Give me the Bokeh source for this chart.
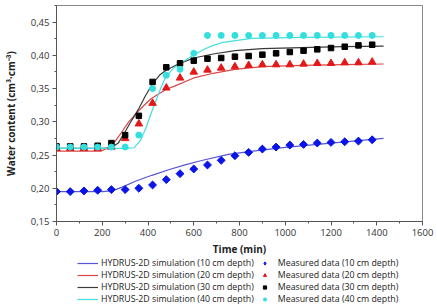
from bokeh.plotting import figure
from bokeh.layouts import column
from bokeh.models import (FixedTicker, CustomJSTickFormatter, Legend, LegendItem, Range1d)
from bokeh.embed import file_html
from bokeh.resources import INLINE

# Measurement times (min)
t_meas = [0, 60, 120, 180, 240, 300, 360, 420, 480, 540, 600, 660, 720,
          780, 840, 900, 960, 1020, 1080, 1140, 1200, 1260, 1320, 1380]

meas_10 = [0.195, 0.195, 0.196, 0.197, 0.198, 0.198, 0.200, 0.205, 0.213, 0.222,
           0.229, 0.235, 0.242, 0.249, 0.254, 0.259, 0.262, 0.265, 0.266, 0.268,
           0.269, 0.270, 0.271, 0.273]
meas_20 = [0.260, 0.260, 0.260, 0.260, 0.262, 0.275, 0.297, 0.328, 0.351, 0.366,
           0.375, 0.378, 0.381, 0.383, 0.385, 0.386, 0.386, 0.386, 0.387, 0.388,
           0.388, 0.389, 0.389, 0.390]
meas_30 = [0.263, 0.263, 0.263, 0.264, 0.268, 0.280, 0.309, 0.360, 0.382, 0.388,
           0.392, 0.395, 0.396, 0.398, 0.399, 0.401, 0.403, 0.405, 0.407, 0.409,
           0.411, 0.413, 0.415, 0.416]
meas_40 = [0.262, 0.262, 0.262, 0.262, 0.262, 0.262, 0.280, 0.350, 0.370, 0.379,
           0.403, 0.430, 0.430, 0.430, 0.430, 0.430, 0.430, 0.430, 0.430, 0.430,
           0.430, 0.430, 0.430, 0.430]

# HYDRUS-2D simulated curves
t_sim_10 = [0, 200, 243, 287, 345, 417, 490, 562, 635, 751, 850, 1000, 1200, 1430]
sim_10 = [0.195, 0.195, 0.196, 0.2017, 0.2106, 0.2195, 0.2278, 0.2353, 0.2418,
          0.251, 0.2555, 0.2615, 0.268, 0.275]

t_sim_20 = [0, 100, 195, 220, 250, 280, 316, 360, 410, 446, 480, 519, 600, 685,
            780, 900, 1070, 1250, 1430]
sim_20 = [0.256, 0.256, 0.256, 0.260, 0.268, 0.282, 0.300, 0.317, 0.334, 0.342,
          0.349, 0.354, 0.366, 0.373, 0.379, 0.383, 0.385, 0.386, 0.387]

t_sim_30 = [0, 200, 240, 270, 300, 330, 360, 390, 420, 450, 480, 540, 600, 685,
            780, 900, 1070, 1250, 1430]
sim_30 = [0.260, 0.260, 0.261, 0.268, 0.285, 0.303, 0.320, 0.340, 0.357, 0.370,
          0.378, 0.388, 0.396, 0.402, 0.407, 0.410, 0.4115, 0.413, 0.414]

t_sim_40 = [0, 300, 340, 367, 390, 417, 454, 475, 512, 533, 606, 650, 685, 722,
            852, 1070, 1430]
sim_40 = [0.260, 0.260, 0.261, 0.272, 0.290, 0.316, 0.349, 0.366, 0.381, 0.386,
          0.402, 0.410, 0.415, 0.419, 0.4255, 0.427, 0.428]

x_ticks = [0, 200, 400, 600, 800, 1000, 1200, 1400, 1600]
y_ticks = [0.15, 0.20, 0.25, 0.30, 0.35, 0.40, 0.45]

sim_labels = ["HYDRUS-2D simulation (10 cm depth)", "HYDRUS-2D simulation (20 cm depth)",
              "HYDRUS-2D simulation (30 cm depth)", "HYDRUS-2D simulation (40 cm depth)"]
meas_labels = ["Measured data (10 cm depth)", "Measured data (20 cm depth)",
               "Measured data (30 cm depth)", "Measured data (40 cm depth)"]

FONT = "Open Sans"
LINE_COLORS = ["#5555d5", "#d84848", "#3a3a3a", "#44dede"]
# (marker, size, colour, rotation) — the 10 cm diamond is a square turned 45°
MARK_STYLES = [("square", 5.6, "#0a14e6", 0.785398), ("triangle", 7.5, "#e41818", 0.0),
               ("square", 5.5, "#000000", 0.0), ("circle", 6, "#33dede", 0.0)]
# legend swatches do not follow marker rotation, so the key uses Bokeh's diamond
LEGEND_MARK_STYLES = [("diamond", 9, "#0a14e6", 0.0)] + MARK_STYLES[1:]

sim_t = [t_sim_10, t_sim_20, t_sim_30, t_sim_40]
sim_v = [sim_10, sim_20, sim_30, sim_40]
meas_v = [meas_10, meas_20, meas_30, meas_40]


def draw_series(fig, mark_styles):
    lines = [fig.line(t, v, line_color=c, line_width=1.2)
             for t, v, c in zip(sim_t, sim_v, LINE_COLORS)]
    marks = [fig.scatter(t_meas, v, marker=m, size=s, color=c, angle=a)
             for v, (m, s, c, a) in zip(meas_v, mark_styles)]
    return lines, marks


# ---- main chart ----
p = figure(width=437, height=258, output_backend="svg", toolbar_location=None,
           x_range=Range1d(0, 1600), y_range=Range1d(0.15, 0.475))
p.min_border_left = 54
p.min_border_right = 15
p.min_border_top = 5
p.min_border_bottom = 0
p.background_fill_color = "white"
p.border_fill_color = "white"
p.outline_line_color = "#888888"
p.outline_line_width = 1
p.grid.visible = False

draw_series(p, MARK_STYLES)

xa = p.xaxis[0]
xa.ticker = FixedTicker(ticks=x_ticks, minor_ticks=list(range(0, 1601, 100)))
ya = p.yaxis[0]
ya.ticker = FixedTicker(ticks=y_ticks,
                        minor_ticks=[0.15, 0.175, 0.2, 0.225, 0.25, 0.275, 0.3,
                                     0.325, 0.35, 0.375, 0.4, 0.425, 0.45, 0.475])
ya.formatter = CustomJSTickFormatter(code="return tick.toFixed(2).replace('.', ',');")

for ax in (xa, ya):
    ax.axis_line_color = "#555555"
    ax.major_tick_line_color = "#555555"
    ax.minor_tick_line_color = "#555555"
    ax.major_tick_out = 4
    ax.major_tick_in = 0
    ax.minor_tick_out = 2
    ax.minor_tick_in = 0
    ax.major_label_text_font = FONT
    ax.major_label_text_font_size = "9.5px"
    ax.major_label_text_color = "#333333"
    ax.major_label_standoff = 3
    ax.axis_label_text_font = FONT
    ax.axis_label_text_font_size = "10px"
    ax.axis_label_text_font_style = "bold"
    ax.axis_label_text_color = "#222222"

xa.axis_label = "Time (min)"
xa.axis_label_standoff = 3
ya.axis_label = "Water content (cm³·cm⁻³)"
ya.axis_label_standoff = 10

# ---- legend strip under the chart ----
leg = figure(width=437, height=50, output_backend="svg", toolbar_location=None,
             x_range=Range1d(-2, -1), y_range=Range1d(-2, -1))
leg.axis.visible = False
leg.grid.visible = False
leg.outline_line_color = None
leg.min_border_left = 0
leg.min_border_right = 0
leg.min_border_top = 0
leg.min_border_bottom = 0

lines, marks = draw_series(leg, LEGEND_MARK_STYLES)
items = [LegendItem(label=lab, renderers=[r]) for lab, r in zip(sim_labels, lines)]
items += [LegendItem(label=lab, renderers=[r]) for lab, r in zip(meas_labels, marks)]

legend = Legend(items=items, nrows=4, orientation="vertical")
legend.location = (19, 1)
legend.border_line_alpha = 0
legend.background_fill_alpha = 0
legend.label_text_font = FONT
legend.label_text_font_size = "8.8px"
legend.label_text_color = "#222222"
legend.glyph_width = 21
legend.glyph_height = 8
legend.label_height = 8
legend.label_standoff = 3
legend.spacing = -4
legend.padding = 2
legend.margin = 0
leg.add_layout(legend, "center")

open("out.html", "w").write(file_html(column(p, leg, spacing=0), INLINE))
